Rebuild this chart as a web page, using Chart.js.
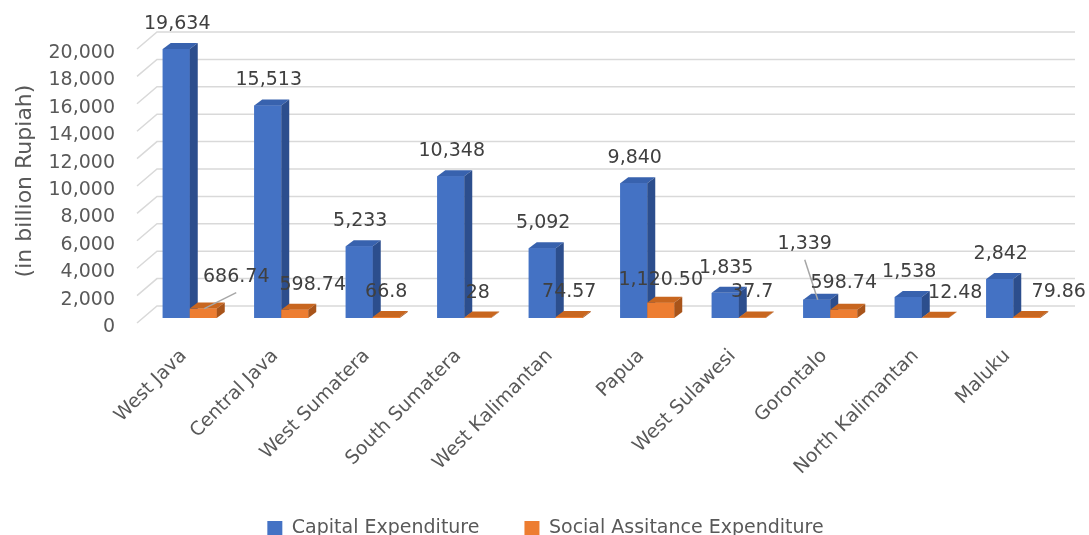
<!DOCTYPE html>
<html>
<head>
<meta charset="utf-8">
<script src="https://cdn.jsdelivr.net/npm/chart.js@4.4.1/dist/chart.umd.min.js"></script>
<style>
  html, body { margin: 0; padding: 0; background: #ffffff; overflow: hidden; width: 1089px; height: 535px; }
  canvas { display: block; }
</style>
</head>
<body>
<canvas id="chart" width="1089" height="548"></canvas>
<script>
// Regional spending, in billion Rupiah
const regions = ['West Java', 'Central Java', 'West Sumatera', 'South Sumatera', 'West Kalimantan',
                 'Papua', 'West Sulawesi', 'Gorontalo', 'North Kalimantan', 'Maluku'];
const capitalExpenditure = [19634, 15513, 5233, 10348, 5092, 9840, 1835, 1339, 1538, 2842];
const socialAssistance = [686.74, 598.74, 66.8, 28, 74.57, 1120.50, 37.7, 598.74, 12.48, 79.86];
const socialDecimals = [2, 2, 1, 0, 2, 2, 1, 2, 2, 2];
const seriesNames = ['Capital Expenditure', 'Social Assitance Expenditure'];
const yTickValues = [0, 2000, 4000, 6000, 8000, 10000, 12000, 14000, 16000, 18000, 20000];

// Hand-placed value labels: pixel nudges [dx, dy] and whether a leader line is drawn
const capitalLabelNudge = [[1, 0], [1, 0], [1, 0], [1, 0], [1, 0], [1, 0], [1, 0], [-12, -31], [1, 0], [1, 0]];
const capitalLeader = [false, false, false, false, false, false, false, true, false, false];
const socialLabelNudge = [[33, -7], [18, 0], [0, 0], [0, 0], [0, 0], [0, 2], [0, 0], [0, -2], [20, 0], [32, 0]];
const socialLeader = [true, false, false, false, false, false, false, false, false, false];

const FONT = 'DejaVu Sans';
const DEPTH_X = 8, DEPTH_Y = 6;
const faces = [
  { front: '#4472C4', top: '#3862AE', side: '#2C4E8D' },
  { front: '#ED7D31', top: '#C8661F', side: '#A8541A' }
];

const fmt = (v, d) => v.toLocaleString('en-US', { minimumFractionDigits: d, maximumFractionDigits: d });

// Back wall grid: horizontal lines set back in depth, joined to the tick labels by short diagonals
const backWall = {
  id: 'backWall',
  beforeDatasetsDraw(chart) {
    const { ctx, chartArea: a, scales: { y } } = chart;
    ctx.save();
    ctx.strokeStyle = '#D9D9D9';
    ctx.lineWidth = 1.5;
    yTickValues.forEach(v => {
      const py = y.getPixelForValue(v);
      ctx.beginPath();
      ctx.moveTo(a.left - 7, py + 5);
      ctx.lineTo(a.left + 13, py - 12);
      ctx.lineTo(a.right + 16, py - 12);
      ctx.stroke();
    });
    ctx.restore();
  }
};

// Extruded columns: front, top and right faces, drawn left to right so neighbours overlap correctly
const solidBars = {
  id: 'solidBars',
  afterDatasetsDraw(chart) {
    const ctx = chart.ctx;
    const metas = [0, 1].map(i => chart.getDatasetMeta(i));
    ctx.save();
    for (let i = 0; i < regions.length; i++) {
      metas.forEach((meta, d) => {
        const { x, y, base, width } = meta.data[i].getProps(['x', 'y', 'base', 'width'], true);
        const l = x - width / 2, r = x + width / 2;
        const c = faces[d];
        ctx.fillStyle = c.front;
        ctx.fillRect(l, y, width, base - y);
        ctx.fillStyle = c.top;
        ctx.beginPath();
        ctx.moveTo(l, y); ctx.lineTo(l + DEPTH_X, y - DEPTH_Y);
        ctx.lineTo(r + DEPTH_X, y - DEPTH_Y); ctx.lineTo(r, y);
        ctx.closePath(); ctx.fill();
        ctx.fillStyle = c.side;
        ctx.beginPath();
        ctx.moveTo(r, y); ctx.lineTo(r + DEPTH_X, y - DEPTH_Y);
        ctx.lineTo(r + DEPTH_X, base - DEPTH_Y); ctx.lineTo(r, base);
        ctx.closePath(); ctx.fill();
      });
    }
    ctx.restore();
  }
};

// Value labels above each column
const valueLabels = {
  id: 'valueLabels',
  afterDatasetsDraw(chart) {
    const ctx = chart.ctx;
    ctx.save();
    ctx.font = '19px "' + FONT + '"';
    ctx.fillStyle = '#404040';
    ctx.textAlign = 'center';
    ctx.textBaseline = 'middle';
    const sets = [
      { meta: chart.getDatasetMeta(0), text: i => fmt(capitalExpenditure[i], 0), nudge: capitalLabelNudge, leader: capitalLeader },
      { meta: chart.getDatasetMeta(1), text: i => fmt(socialAssistance[i], socialDecimals[i]), nudge: socialLabelNudge, leader: socialLeader }
    ];
    sets.forEach(s => {
      s.meta.data.forEach((bar, i) => {
        const { x, y } = bar.getProps(['x', 'y'], true);
        const lx = x + s.nudge[i][0];
        const ly = y - 25 + s.nudge[i][1];
        if (s.leader[i]) {
          ctx.save();
          ctx.strokeStyle = '#A6A6A6';
          ctx.lineWidth = 1.5;
          ctx.beginPath();
          ctx.moveTo(lx, ly + 16);
          ctx.lineTo(x + 1, y);
          ctx.stroke();
          ctx.restore();
        }
        ctx.fillText(s.text(i), lx, ly);
      });
    });
    ctx.restore();
  }
};

// Legend sits slightly right of centre
const legendShift = {
  id: 'legendShift',
  afterLayout(chart) {
    if (chart.legend) { chart.legend.left += 16; chart.legend.right += 16; }
  }
};

Chart.defaults.font.family = FONT;
Chart.defaults.color = '#595959';

new Chart(document.getElementById('chart'), {
  type: 'bar',
  data: {
    labels: regions,
    datasets: [
      { label: seriesNames[0], data: capitalExpenditure, backgroundColor: faces[0].front },
      { label: seriesNames[1], data: socialAssistance, backgroundColor: faces[1].front }
    ]
  },
  options: {
    responsive: false,
    animation: false,
    devicePixelRatio: 1,
    categoryPercentage: 0.59,
    barPercentage: 1,
    layout: { padding: { top: 44, right: 30, bottom: 0, left: 0 } },
    plugins: {
      tooltip: { enabled: false },
      legend: {
        position: 'bottom',
        labels: { boxWidth: 15, boxHeight: 15, padding: 45, color: '#595959', font: { size: 19 } }
      }
    },
    scales: {
      x: {
        grid: { display: false },
        border: { display: false },
        ticks: { minRotation: 45, maxRotation: 45, padding: 19, labelOffset: -6, color: '#595959', font: { size: 19 } },
        afterFit(s) { s.height = s.chart.height - 318 - s.chart.legend.height; }
      },
      y: {
        min: 0,
        max: 20000,
        afterBuildTicks(s) { s.ticks = yTickValues.map(v => ({ value: v })); },
        grid: { display: false },
        border: { display: false },
        ticks: {
          padding: 21, labelOffset: 9, color: '#595959', font: { size: 19 },
          callback: v => v.toLocaleString('en-US')
        },
        title: {
          display: true, text: '(in billion Rupiah)', color: '#595959',
          font: { size: 22 }, padding: { top: 12, bottom: 0 }
        },
        afterFit(s) { s.width = 144; }
      }
    }
  },
  plugins: [backWall, solidBars, valueLabels, legendShift]
});
</script>
</body>
</html>
